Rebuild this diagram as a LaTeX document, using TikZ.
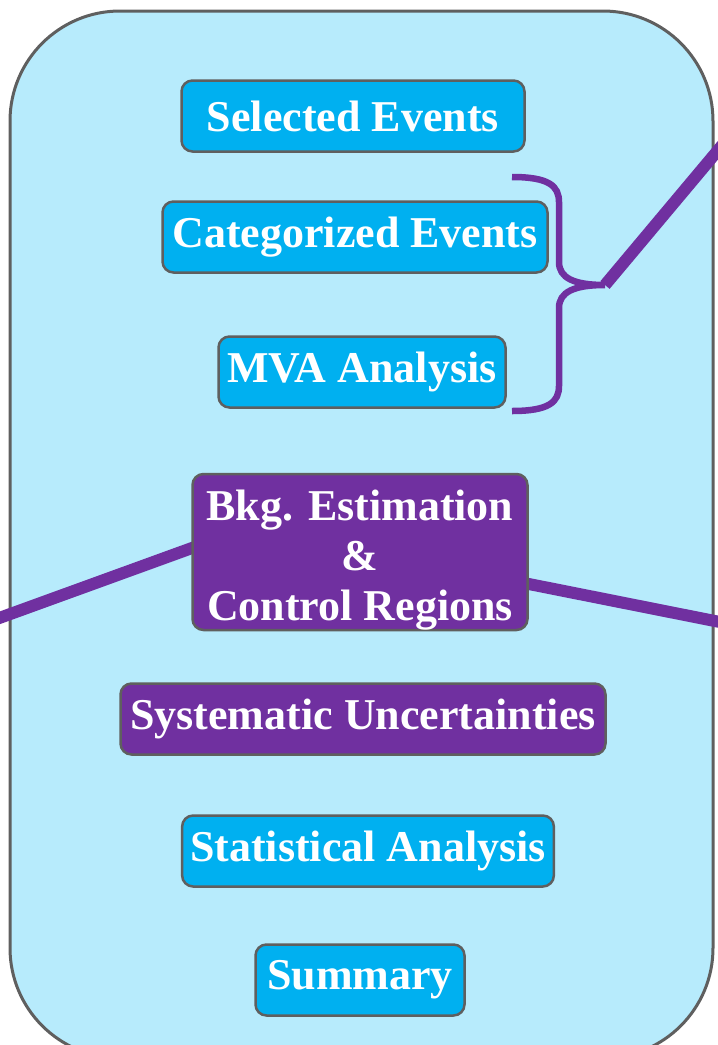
\documentclass[tikz,border=0pt]{standalone}
\usepackage{fontspec}
\setmainfont{Liberation Serif}
\usetikzlibrary{backgrounds}
\definecolor{paleblue}{HTML}{B7EBFC}
\definecolor{boxblue}{HTML}{00B0F0}
\definecolor{boxpurple}{HTML}{7030A0}
\definecolor{edgegray}{HTML}{5F5F5F}
\tikzset{
  stepbox/.style={draw=edgegray, line width=2.5pt, rounded corners=11pt, fill=boxblue, text=white,
    font=\fontsize{44}{50}\selectfont\bfseries, minimum height=71pt, inner xsep=8pt, align=center},
  hotbox/.style={stepbox, fill=boxpurple},
  link/.style={boxpurple, line width=12pt},
}
\begin{document}
\begin{tikzpicture}[x=1pt, y=-1pt]
\useasboundingbox (0,0) rectangle (718,1045);

\node[stepbox, minimum width=343pt] (sel) at (353,116) {Selected Events};
\node[stepbox, minimum width=385pt] (cat) at (355,237) {Categorized Events};
\node[stepbox, minimum width=287pt] (mva) at (362,372) {MVA Analysis};
\node[hotbox, minimum width=335pt, minimum height=156pt, inner ysep=0pt] (bkg) at (360,552)
  {\rule{0pt}{0pt}\\[-4pt]Bkg. Estimation\\\&\\Control Regions};
\node[hotbox, minimum width=485pt] (sys) at (363,719) {Systematic Uncertainties};
\node[stepbox, minimum width=369pt] (stat) at (368,851) {Statistical Analysis};
\node[stepbox, minimum width=209pt] (sum) at (360,980) {Summary};

% brace over the two middle steps
\coordinate (tip) at (605,285);
\draw[boxpurple, line width=6.5pt] (512,177) .. controls (549,177) and (559,186) .. (559,202) -- (559,262)
  .. controls (559,278) and (574,285) .. (tip) .. controls (574,285) and (559,292) .. (559,308)
  -- (559,386) .. controls (559,402) and (549,411) .. (512,411);

\coordinate (outNE) at (740,124);
\coordinate (outW) at (-20,625);
\coordinate (outE) at (740,626);

\begin{pgfonlayer}{background}
\draw[line width=3pt, draw=edgegray, fill=paleblue, rounded corners=110pt] (10,11) rectangle (713,1058);
\draw[link] (tip) -- (outNE);
\draw[link] ([yshift=11pt, xshift=20pt]bkg.west) -- (outW);
\draw[link] ([yshift=-28pt, xshift=-20pt]bkg.east) -- (outE);
\end{pgfonlayer}
\end{tikzpicture}
\end{document}
